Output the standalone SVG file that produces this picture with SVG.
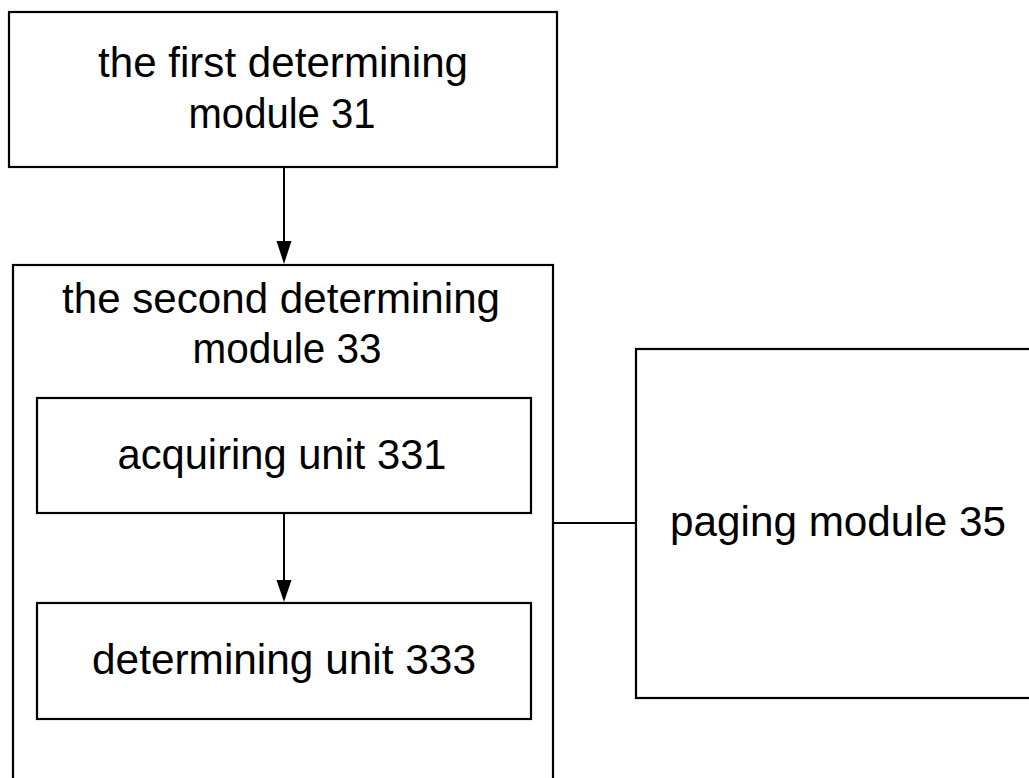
<svg xmlns="http://www.w3.org/2000/svg" width="1029" height="778" viewBox="0 0 1029 778">
  <style>
    .box { fill: #ffffff; stroke: #000000; stroke-width: 2.2; }
    .wire { fill: none; stroke: #000000; stroke-width: 2; }
    .label { font-family: "Liberation Sans", Arial, sans-serif; font-size: 43px; fill: #000000; text-anchor: middle; }
  </style>
  <rect width="1029" height="778" fill="#ffffff"/>

  <g id="first-determining-module-31">
    <rect class="box" x="9" y="12" width="548" height="155"/>
    <text class="label" x="283" y="77" textLength="370" lengthAdjust="spacingAndGlyphs">the first determining</text>
    <text class="label" x="282" y="128" textLength="187" lengthAdjust="spacingAndGlyphs">module 31</text>
  </g>

  <g id="second-determining-module-33">
    <rect class="box" x="13" y="265" width="540" height="530"/>
    <text class="label" x="281" y="313" textLength="438" lengthAdjust="spacingAndGlyphs">the second determining</text>
    <text class="label" x="287" y="363" textLength="189" lengthAdjust="spacingAndGlyphs">module 33</text>
  </g>

  <g id="acquiring-unit-331">
    <rect class="box" x="37" y="398" width="494" height="115"/>
    <text class="label" x="282" y="469" textLength="329" lengthAdjust="spacingAndGlyphs">acquiring unit 331</text>
  </g>

  <g id="determining-unit-333">
    <rect class="box" x="37" y="603" width="494" height="116"/>
    <text class="label" x="284" y="674" textLength="384" lengthAdjust="spacingAndGlyphs">determining unit 333</text>
  </g>

  <g id="paging-module-35">
    <rect class="box" x="636" y="349" width="420" height="349"/>
    <text class="label" x="838" y="536" textLength="336" lengthAdjust="spacingAndGlyphs">paging module 35</text>
  </g>

  <g id="connectors">
    <path class="wire" d="M284,167 L284,241"/>
    <path d="M276.5,241 L291.5,241 L284,264 Z" fill="#000000"/>
    <path class="wire" d="M284,513 L284,580"/>
    <path d="M276.5,580 L291.5,580 L284,602 Z" fill="#000000"/>
    <path class="wire" d="M553,523 L636,523"/>
  </g>
</svg>
